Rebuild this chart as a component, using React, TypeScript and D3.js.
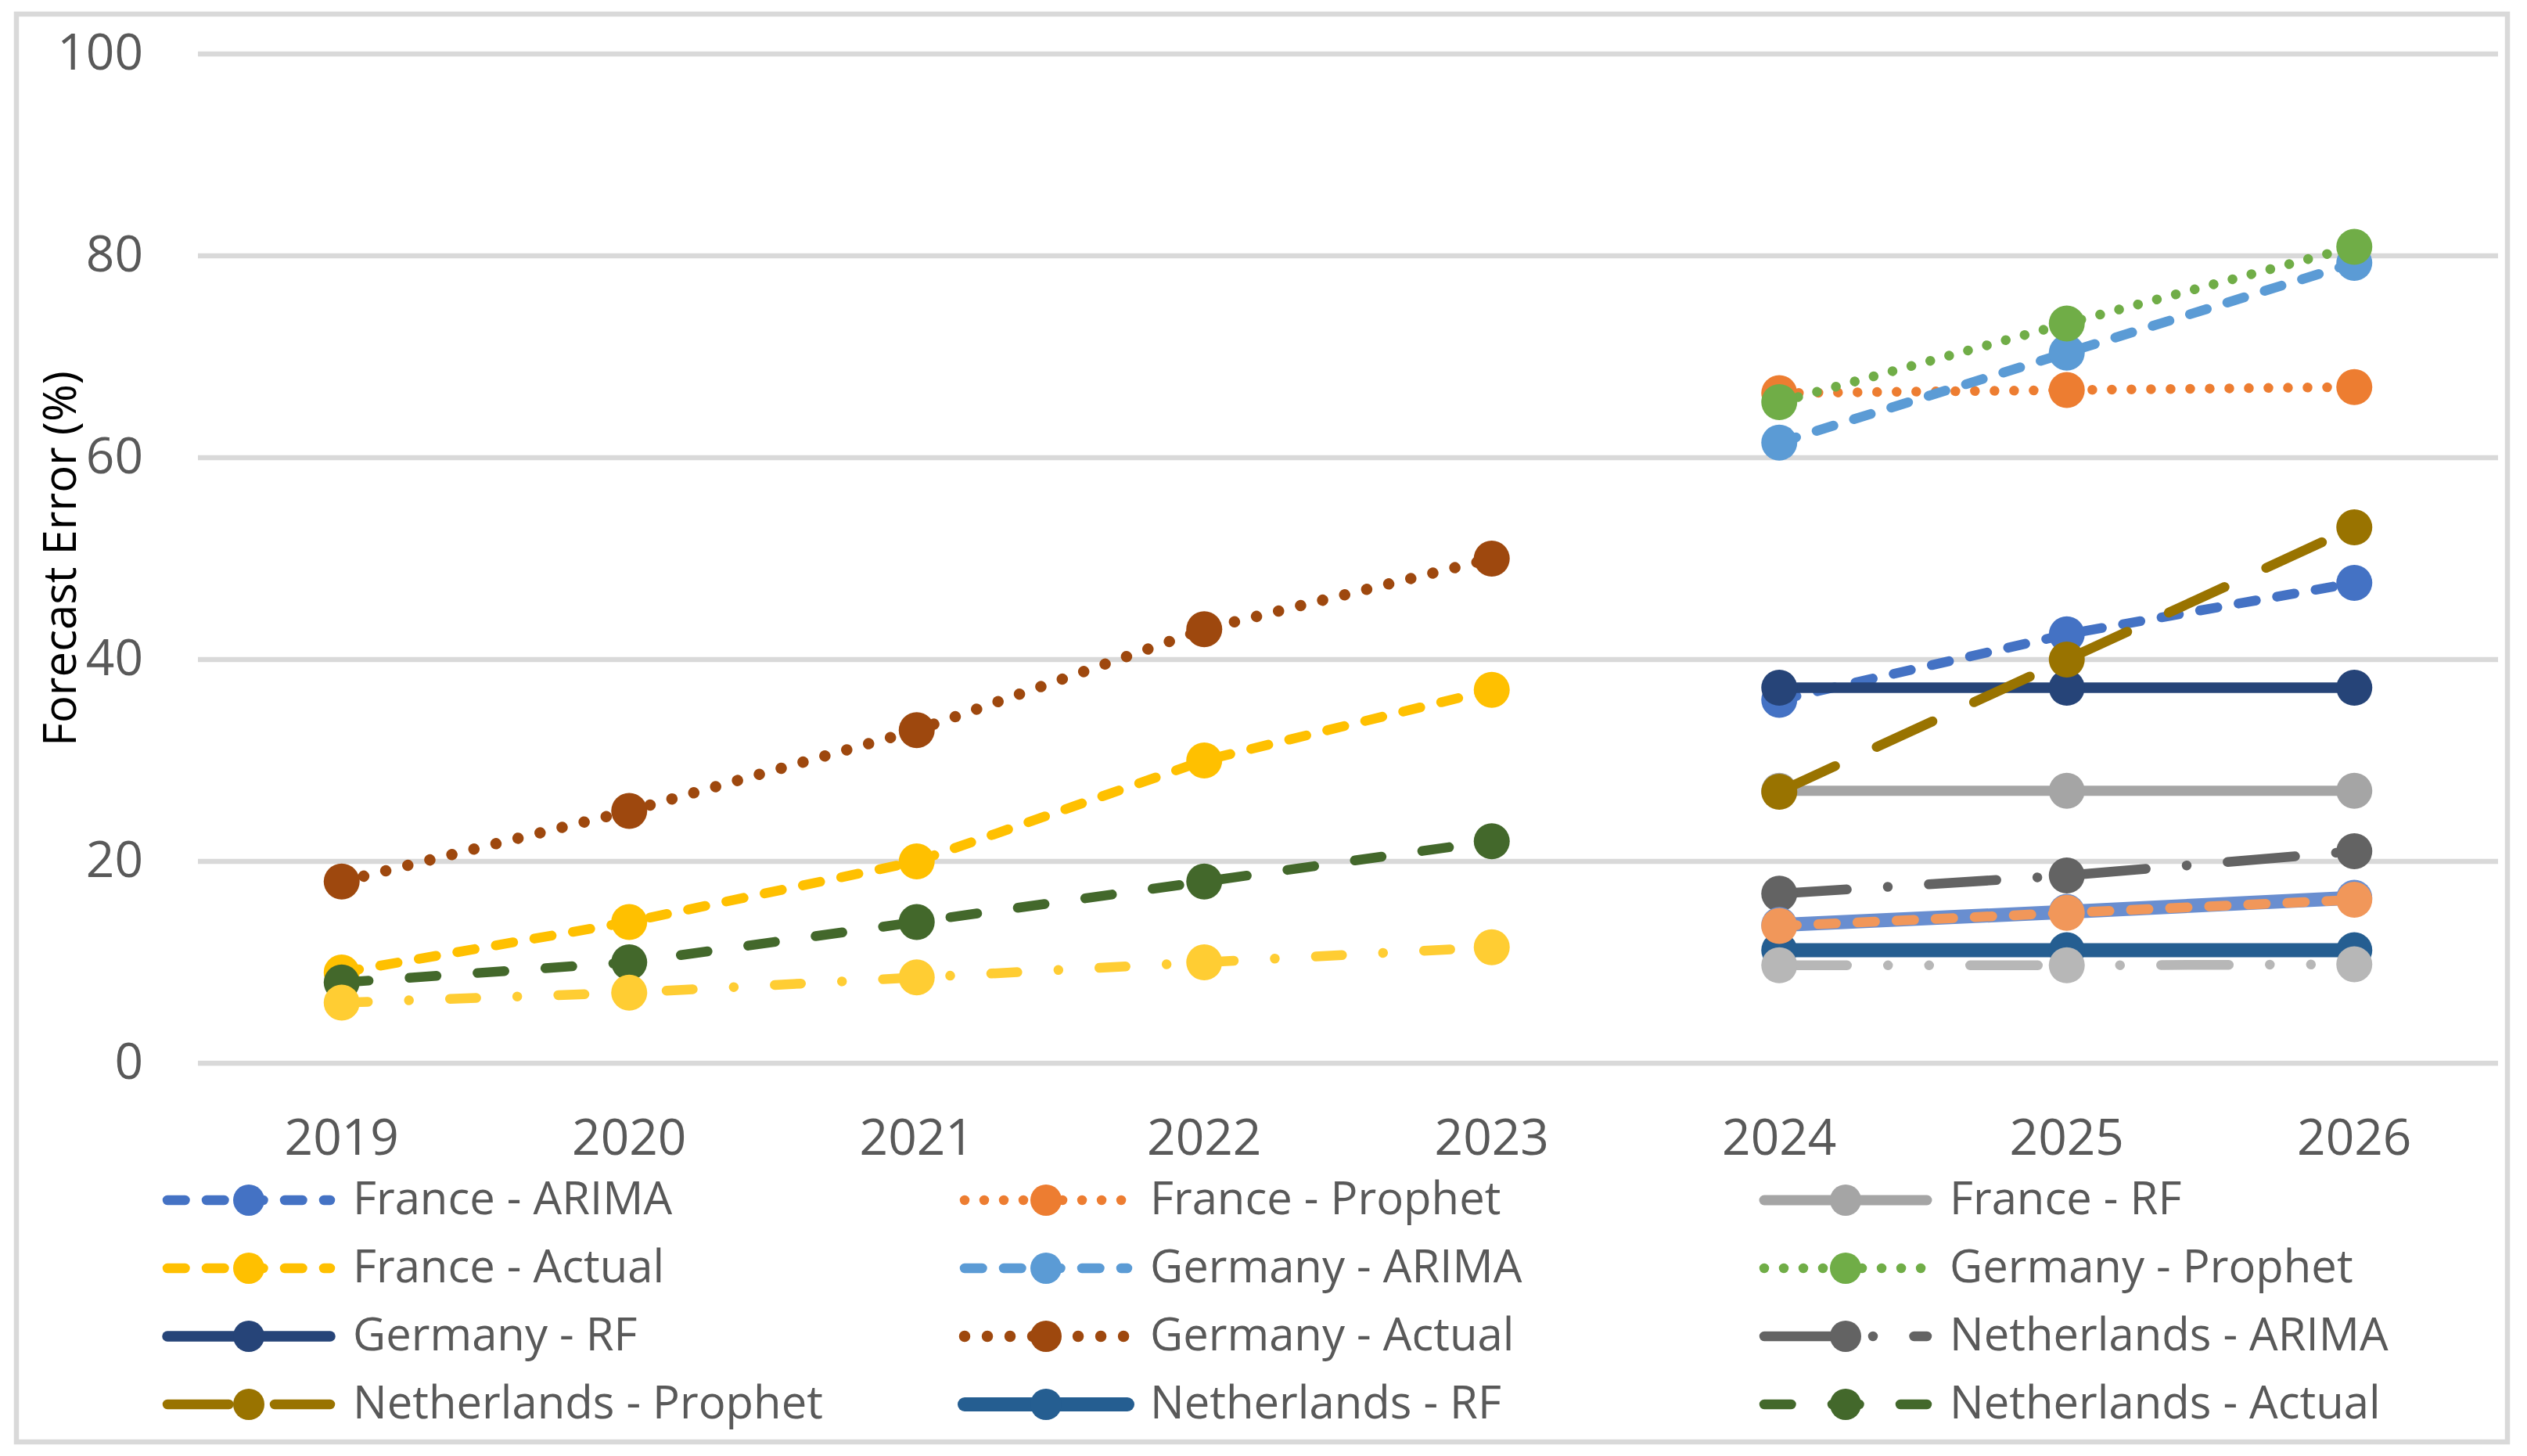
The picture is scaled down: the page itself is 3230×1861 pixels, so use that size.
import React from 'react';
import * as d3 from 'd3';

// ---------- data ----------
const years = ['2019', '2020', '2021', '2022', '2023', '2024', '2025', '2026'];
const yTicks = [0, 20, 40, 60, 80, 100];

type V = number | null;
const franceArima: V[] = [null, null, null, null, null, 36, 42.5, 47.6];
const franceProphet: V[] = [null, null, null, null, null, 66.4, 66.7, 67.0];
const franceRF: V[] = [null, null, null, null, null, 27, 27, 27];
const franceActual: V[] = [9, 14, 20, 30, 37, null, null, null];
const germanyArima: V[] = [null, null, null, null, null, 61.5, 70.4, 79.3];
const germanyProphet: V[] = [null, null, null, null, null, 65.5, 73.3, 80.9];
const germanyRF: V[] = [null, null, null, null, null, 37.2, 37.2, 37.2];
const germanyActual: V[] = [18, 25, 33, 43, 50, null, null, null];
const netherlandsArima: V[] = [null, null, null, null, null, 16.8, 18.6, 21.0];
const netherlandsProphet: V[] = [null, null, null, null, null, 26.9, 40, 53.1];
const netherlandsRF: V[] = [null, null, null, null, null, 11.2, 11.2, 11.2];
const netherlandsActual: V[] = [8, 10, 14, 18, 22, null, null, null];
// unlabelled extra series (not in legend)
const extraSeries13: V[] = [null, null, null, null, null, 13.7, 15.0, 16.4];
const extraSeries14: V[] = [null, null, null, null, null, 13.6, 14.9, 16.2];
const extraSeries15: V[] = [null, null, null, null, null, 9.7, 9.7, 9.8];
const extraSeries16: V[] = [6, 7, 8.5, 10, 11.5, null, null, null];

const seriesNames = [
  'France - ARIMA', 'France - Prophet', 'France - RF', 'France - Actual',
  'Germany - ARIMA', 'Germany - Prophet', 'Germany - RF', 'Germany - Actual',
  'Netherlands - ARIMA', 'Netherlands - Prophet', 'Netherlands - RF', 'Netherlands - Actual',
  '', '', '', '',
];
const seriesValues = [
  franceArima, franceProphet, franceRF, franceActual,
  germanyArima, germanyProphet, germanyRF, germanyActual,
  netherlandsArima, netherlandsProphet, netherlandsRF, netherlandsActual,
  extraSeries13, extraSeries14, extraSeries15, extraSeries16,
];

// ---------- styles ----------
const colors = [
  '#4472C4', '#ED7D31', '#A5A5A5', '#FFC000',
  '#5B9BD5', '#70AD47', '#264478', '#9E480E',
  '#636363', '#997300', '#255E91', '#43682B',
  '#698ED0', '#F1975A', '#B7B7B7', '#FFCD33',
];
const sysDash = '22.5 27.5';
const roundDot = (w: number) => `0.01 ${2 * w}`;
const widths = [12.5, 12.5, 13, 12.5, 12.5, 12.5, 13.5, 14.5, 12.5, 12.5, 18, 12.5, 18, 12.5, 12.5, 12.5];
const dashes = [
  sysDash, roundDot(12.5), '', sysDash,
  sysDash, roundDot(12.5), '', roundDot(14.5),
  '86.5 52.5 0.01 52.5', '78.5 58.5', '', '34.5 52.5',
  '', sysDash, '86.5 52.5 0.01 52.5 0.01 52.5', '33.5 52.5 0.01 52.5',
];

const W = 3230;
const H = 1861;
const FONT = "'Open Sans', 'Noto Sans', sans-serif";

export default function App() {
  const x = d3.scaleBand<string>().domain(years).range([253, 3193]);
  const cx = (yr: string) => (x(yr) as number) + x.bandwidth() / 2;
  const y = d3.scaleLinear().domain([0, 100]).range([1359, 69]);

  const line = d3
    .line<{ yr: string; v: V }>()
    .defined((d) => d.v != null)
    .x((d) => cx(d.yr))
    .y((d) => y(d.v as number));

  const legendCols = [318, 1337, 2359];
  const legendRows = [1534, 1621, 1708, 1795];

  return (
    <svg
      width={W}
      height={H}
      viewBox={`0 0 ${W} ${H}`}
      style={{ position: 'absolute', left: 0, top: 0, background: '#fff' }}
      fontFamily={FONT}
    >
      <rect x={0} y={0} width={W} height={H} fill="#fff" />
      <rect x={21} y={18} width={3184} height={1825} fill="#fff" stroke="#D9D9D9" strokeWidth={6.5} />

      {/* gridlines */}
      {yTicks.map((t) => (
        <line key={t} x1={253} x2={3193} y1={y(t)} y2={y(t)} stroke="#D9D9D9" strokeWidth={6.5} />
      ))}
      {/* y tick labels */}
      {yTicks.map((t) => (
        <text key={'l' + t} x={183} y={y(t) + 20} textAnchor="end" fontSize={64} fill="#595959">
          {t}
        </text>
      ))}
      {/* x tick labels */}
      {years.map((yr) => (
        <text key={yr} x={cx(yr)} y={1476} textAnchor="middle" fontSize={64} fill="#595959">
          {yr}
        </text>
      ))}
      {/* y axis title */}
      <text transform="translate(97,714) rotate(-90)" textAnchor="middle" fontSize={58} fill="#000">
        Forecast Error (%)
      </text>

      {/* series */}
      {seriesValues.map((vals, i) => {
        const pts = years.map((yr, j) => ({ yr, v: vals[j] }));
        return (
          <g key={i}>
            <path
              d={line(pts) || ''}
              fill="none"
              stroke={colors[i]}
              strokeWidth={widths[i]}
              strokeDasharray={dashes[i] || undefined}
              strokeLinecap="round"
              strokeLinejoin="round"
            />
            {pts
              .filter((p) => p.v != null)
              .map((p) => (
                <circle key={p.yr} cx={cx(p.yr)} cy={y(p.v as number)} r={23} fill={colors[i]} />
              ))}
          </g>
        );
      })}

      {/* legend */}
      {seriesNames.slice(0, 12).map((name, i) => {
        const col = i % 3;
        const row = Math.floor(i / 3);
        const mx = legendCols[col];
        const my = legendRows[row];
        return (
          <g key={'leg' + i}>
            <line
              x1={mx - 104}
              x2={mx + 104}
              y1={my}
              y2={my}
              stroke={colors[i]}
              strokeWidth={widths[i]}
              strokeDasharray={dashes[i] || undefined}
              strokeLinecap="round"
            />
            <circle cx={mx} cy={my} r={20} fill={colors[i]} />
            <text x={mx + 133} y={my + 18} fontSize={58} fill="#595959">
              {name}
            </text>
          </g>
        );
      })}
    </svg>
  );
}
